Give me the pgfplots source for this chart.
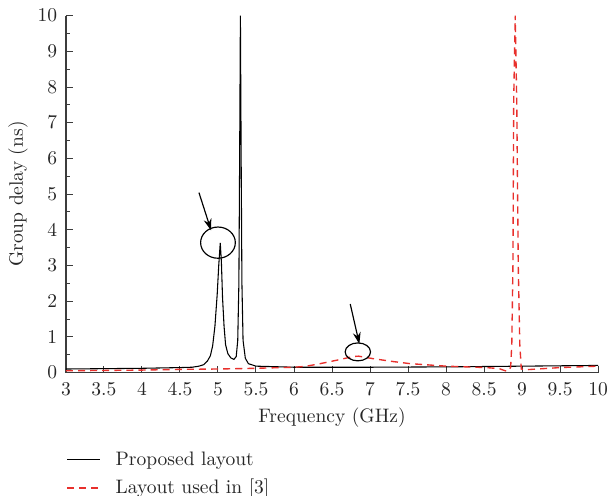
\documentclass[border=0pt]{standalone}
\usepackage{pgfplots}
\pgfplotsset{compat=1.18}
\usetikzlibrary{arrows.meta}
\definecolor{myred}{RGB}{232,48,44}
\definecolor{axgray}{RGB}{60,60,60}
\begin{document}
\begin{tikzpicture}
\begin{axis}[
  scale only axis, width=272.8pt, height=183pt,
  xmin=3, xmax=10, ymin=0, ymax=10,
  axis lines*=left,
  axis line style={axgray, line width=0.6pt},
  tick align=inside,
  xtick={3,3.5,...,10},
  ytick={0,1,...,10},
  minor ytick={0.5,1.5,...,9.5},
  major tick length=3.6pt, minor tick length=2pt,
  tick style={axgray, line width=0.5pt},
  ticklabel style={text=black!85},
  xticklabel style={yshift=-2pt},
  yticklabel style={xshift=-1pt},
  label style={text=black!85},
  xlabel={Frequency (GHz)}, ylabel={Group delay (ns)},
  xlabel style={at={(axis description cs:0.5,-0.1268)}, anchor=center},
  ylabel style={at={(axis description cs:-0.0902,0.5)}, anchor=center},
  legend style={at={(0,-0.209)}, anchor=north west, draw=none, fill=none, inner sep=0pt, text=black!85, row sep=1.8pt,
    /tikz/every odd column/.append style={column sep=5.5pt}},
  legend cell align=left,
]
\addplot[black, line width=0.55pt] coordinates {
(3.0,0.10) (3.5,0.11) (4.0,0.12) (4.5,0.14) (4.66,0.15) (4.75,0.18) (4.81,0.22) (4.86,0.32) (4.9,0.47) (4.93,0.75) (4.96,1.3) (4.99,2.2) (5.01,3.0) (5.03,3.63) (5.045,3.1) (5.06,2.1) (5.08,1.3) (5.1,0.78) (5.13,0.53) (5.17,0.41) (5.21,0.37) (5.24,0.45) (5.26,0.9) (5.275,2.5) (5.285,6) (5.295,10) (5.305,6) (5.315,2.5) (5.33,0.9) (5.36,0.4) (5.4,0.25) (5.5,0.18) (6.0,0.15) (7.0,0.15) (8.0,0.16) (9.0,0.18) (10.0,0.2)
};
\addlegendentry{Proposed layout}
\addplot[myred, line width=0.7pt, dash pattern=on 3.6pt off 2.6pt] coordinates {
(3.0,0.05) (3.5,0.06) (4.0,0.07) (4.5,0.09) (5.0,0.10) (5.5,0.12) (6.0,0.15) (6.13,0.17) (6.3,0.23) (6.57,0.35) (6.78,0.45) (6.85,0.46) (7.04,0.39) (7.3,0.31) (7.53,0.25) (8.0,0.18) (8.53,0.14) (8.7,0.11) (8.78,0.05) (8.82,0.04) (8.85,0.15) (8.865,0.8) (8.88,3.0) (8.89,7.6) (8.91,10) (8.93,7.6) (8.95,3.0) (8.97,0.8) (8.99,0.1) (9.05,0.08) (9.5,0.14) (10.0,0.18)
};
\addlegendentry{Layout used in [3]}
\draw[black, line width=0.6pt] (axis cs:5.0,3.64) ellipse [x radius=8.9pt, y radius=8pt];
\draw[black, line width=0.6pt, -{Stealth[length=6pt,width=4pt]}] (axis cs:4.75,5.04) -- (axis cs:4.91,3.98);
\draw[black, line width=0.6pt] (axis cs:6.84,0.58) ellipse [x radius=6.5pt, y radius=4.6pt];
\draw[black, line width=0.6pt, -{Stealth[length=6pt,width=4pt]}] (axis cs:6.74,1.92) -- (axis cs:6.86,0.8);
\coordinate (bl) at (rel axis cs:0,0);
\coordinate (tr) at (rel axis cs:1,1);
\end{axis}
\pgfresetboundingbox
\path ([shift={(-33.8pt,-63.2pt)}]bl) rectangle ([shift={(5.6pt,8pt)}]tr);
\end{tikzpicture}
\end{document}
